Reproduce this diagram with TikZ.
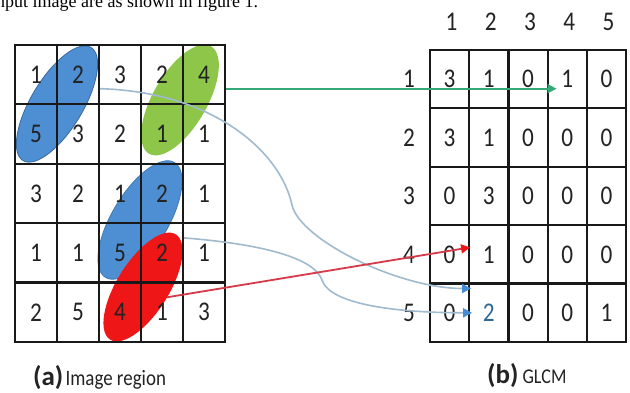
\documentclass[tikz,border=0pt]{standalone}
\usepackage{fontspec}
\setmainfont{Carlito}
\newfontfamily\numfam[FakeStretch=0.86]{Carlito}
\newfontfamily\bodyserif{Liberation Serif}
\usetikzlibrary{arrows.meta,calc}

\definecolor{blobblue}{RGB}{78,142,210}
\definecolor{blobgreen}{RGB}{141,198,72}
\definecolor{blobred}{RGB}{238,22,22}
\definecolor{gridline}{RGB}{25,25,25}
\definecolor{linkgreen}{RGB}{52,168,118}
\definecolor{linkblue}{RGB}{160,186,206}
\definecolor{tipblue}{RGB}{70,140,210}
\definecolor{linkred}{RGB}{214,58,72}
\definecolor{digit}{RGB}{35,35,35}
\definecolor{digitblue}{RGB}{45,105,150}

\begin{document}
\begin{tikzpicture}[x=1pt,y=-1pt,
  numfont/.style={font=\numfam\fontsize{27}{27}\selectfont, text=digit},
  imgcell/.style={draw=gridline, line width=2.2pt, minimum width=42pt,
    minimum height=59.4pt, inner sep=0pt, numfont},
  glcmcell/.style={draw=gridline, line width=2.2pt, minimum width=39.2pt,
    minimum height=58.4pt, inner sep=0pt, numfont},
  axislabel/.style={inner sep=0pt, numfont},
  blob/.style={line width=0.8pt},
  greenlink/.style={draw=linkgreen, line width=2pt,
    -{Triangle[length=9pt,width=9pt]}},
  bluelink/.style={draw=linkblue, line width=1.6pt,
    -{Triangle[length=9pt,width=9pt,color=tipblue]}},
  redlink/.style={draw=linkred, line width=1.8pt,
    -{Triangle[length=9pt,width=9pt,color=blobred]}},
  caption/.style={anchor=base west, inner sep=0pt, text=digit}
]
\fill[white] (0,0) rectangle (630,393);
\useasboundingbox (0,0) rectangle (630,393);

% running text above the figure, cut by the page edge
\node[anchor=base west, inner sep=0pt, font=\bodyserif\fontsize{18}{18}\selectfont]
  (bodytext) at (-9,8) {input image are as shown in figure 1.};

% marker strokes over the image region
\fill[blob, blobblue, draw=blobblue!75!black, rotate around={59:(57,104)}]
  (57,104) ellipse [x radius=66, y radius=26];
\fill[blob, blobgreen, rotate around={60:(180,100)}]
  (180,100) ellipse [x radius=62, y radius=27];
\fill[blob, blobblue, draw=blobblue!85!black, rotate around={59:(140,220)}]
  (140,220) ellipse [x radius=67, y radius=28];
\fill[blob, blobred, rotate around={58:(143,287)}]
  (143,287) ellipse [x radius=62, y radius=26];

% (a) image region
\foreach \row [count=\r] in {{1,2,3,2,4},{5,3,2,1,1},{3,2,1,2,1},{1,1,5,2,1},{2,5,4,1,3}}{
  \foreach \v [count=\c] in \row {
    \node[imgcell] (L\r\c) at ({15+42*(\c-0.5)},{45+59.4*(\r-0.5)}) {\v};
  }
}

% (b) GLCM
\foreach \row [count=\r] in {{3,1,0,1,0},{3,1,0,0,0},{0,3,0,0,0},{0,1,0,0,0},{0,{\textcolor{digitblue}{2}},0,0,1}}{
  \foreach \v [count=\c] in \row {
    \node[glcmcell] (G\r\c) at ({430+39.2*(\c-0.5)},{50+58.4*(\r-0.5)}) {\v};
  }
}
\foreach \c in {1,...,5}{
  \node[axislabel] (C\c) at ({432+39.2*(\c-0.5)},22) {\c};
  \node[axislabel] (R\c) at (409,{50+58.4*(\c-0.5)}) {\c};
}

% pairs counted into the matrix
\coordinate (gstart) at ([yshift=-14pt]L15.east);
\coordinate (gtip) at ($(gstart -| G14.west)+(10,0)$);
\draw[greenlink] (gstart) -- (gtip);

\coordinate (b1s) at ([yshift=-14pt]L12.east);
\coordinate (b1m) at (292,205);
\coordinate (b1t) at ($(G52.north west)+(3,6)$);
\draw[bluelink] (b1s) .. controls +(111,3) and +(-12,-55) .. (b1m)
  .. controls +(8,35) and +(-72,0) .. (b1t);

\coordinate (b2s) at ([yshift=15pt]L44.east);
\coordinate (b2m) at (322,280);
\coordinate (b2t) at ($(G52.west)+(4,0)$);
\draw[bluelink] (b2s) .. controls +(87,7) and +(-7,-20) .. (b2m)
  .. controls +(8,25) and +(-73,0) .. (b2t);

\coordinate (rs) at ($(L54.center)+(5,-15)$);
\coordinate (rt) at ($(G42.west)+(2,-7)$);
\draw[redlink] (rs) -- (rt);

% captions
\node[caption] (capa) at (33,385)
  {{\bfseries\fontsize{27}{27}\selectfont (a)} {\numfam\fontsize{22}{22}\selectfont Image region}};
\node[caption] (capb) at (487,383)
  {{\bfseries\fontsize{27}{27}\selectfont (b)}{\numfam\fontsize{21}{21}\selectfont\ GLCM}};
\end{tikzpicture}
\end{document}
